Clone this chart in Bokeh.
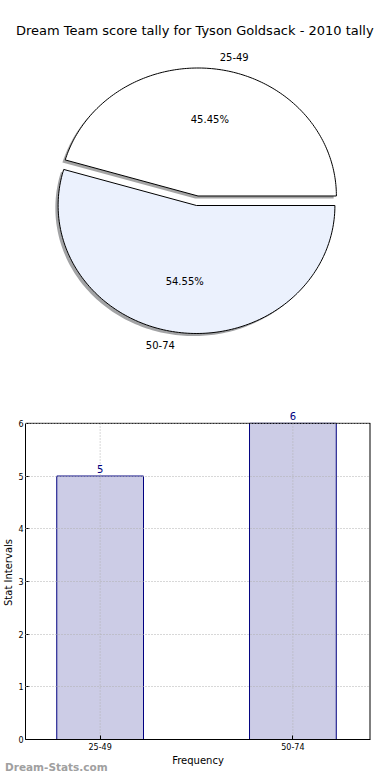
import numpy as np
from bokeh.plotting import figure
from bokeh.layouts import column
from bokeh.models import (Range1d, FixedTicker, LabelSet, ColumnDataSource, Span, Div)
from bokeh.core.properties import value
from bokeh.embed import file_html
from bokeh.resources import INLINE

# ---------------- data ----------------
title_text = "Dream Team score tally for Tyson Goldsack - 2010 tally"
categories = ["25-49", "50-74"]
counts = [5, 6]
explode = [0.075, 0.0]
slice_colors = ["#FFFFFF", "#EBF1FD"]
y_ticks = [0, 1, 2, 3, 4, 5, 6]
x_label = "Frequency"
y_label = "Stat Intervals"
watermark = "Dream-Stats.com"

FONT = "DejaVu Sans"

# ---------------- title ----------------
title_div = Div(text=title_text, width=374, height=36,
                styles={"font-family": FONT, "font-size": "13px", "color": "black",
                        "line-height": "52px", "text-align": "left",
                        "text-indent": "11px", "white-space": "nowrap"})

# ---------------- pie ----------------
p1 = figure(width=374, height=359, output_backend="svg", toolbar_location=None,
            x_range=Range1d(-1.2357, 1.2571), y_range=Range1d(-1.5625, 1.2422),
            x_axis_location=None, y_axis_location=None, min_border=0)
p1.grid.visible = False
p1.outline_line_color = None

total = float(sum(counts))
fracs = np.array(counts) / total
ends = np.cumsum(fracs) * 2 * np.pi
starts = ends - fracs * 2 * np.pi

xs, ys, sxs, sys_, shadow_cols = [], [], [], [], []
for i in range(len(counts)):
    s, e = starts[i], ends[i]
    mid = (s + e) / 2
    ox, oy = explode[i] * np.cos(mid), explode[i] * np.sin(mid)
    t = np.linspace(s, e, 160)
    px = np.concatenate([[ox], ox + np.cos(t), [ox]])
    py = np.concatenate([[oy], oy + np.sin(t), [oy]])
    xs.append(list(px)); ys.append(list(py))
    sxs.append(list(px - 0.02)); sys_.append(list(py - 0.02))
    c = slice_colors[i].lstrip("#")
    rgb = [int(int(c[k:k + 2], 16) * 0.3) for k in (0, 2, 4)]
    shadow_cols.append("#%02x%02x%02x" % tuple(rgb))

p1.patches(sxs, sys_, fill_color=shadow_cols, fill_alpha=0.5, line_color=None)
p1.patches(xs, ys, fill_color=slice_colors, line_color="black", line_width=1)

for i in range(len(counts)):
    s, e = starts[i], ends[i]
    mid = (s + e) / 2
    ox, oy = explode[i] * np.cos(mid), explode[i] * np.sin(mid)
    lx, ly = ox + 1.1 * np.cos(mid), oy + 1.1 * np.sin(mid)
    p1.text(x=[lx], y=[ly], text=[categories[i]],
            text_align="left" if lx > 0 else "right", text_baseline="middle",
            text_font=value(FONT), text_font_size="10px", text_color="black")
    qx, qy = ox + 0.6 * np.cos(mid), oy + 0.6 * np.sin(mid)
    p1.text(x=[qx], y=[qy], text=["%.2f%%" % (100 * fracs[i])],
            text_align="center", text_baseline="middle",
            text_font=value(FONT), text_font_size="10px", text_color="black")

# ---------------- bar ----------------
idx = list(range(len(categories)))
ymax = y_ticks[-1]
x_end = 1.4026
p2 = figure(width=374, height=363, output_backend="svg", toolbar_location=None,
            x_range=Range1d(-0.3872, x_end), y_range=Range1d(0, 6.3385),
            min_border_left=21, min_border_right=4, min_border_top=0,
            min_border_bottom=26)
p2.outline_line_color = None
p2.xgrid.visible = False

p2.vbar(x=idx, top=counts, width=0.45, fill_color="#CCCCE6",
        line_color="#000080", line_width=1)

# vertical dotted grid lines (limited to the axes box)
p2.segment(x0=idx, y0=[0] * len(idx), x1=idx, y1=[ymax] * len(idx),
           line_color="#b0b0b0", line_dash="1 2", line_width=1)
# right edge of the axes box
p2.segment(x0=[x_end], y0=[0], x1=[x_end], y1=[ymax], line_color="black", line_width=2)

p2.xaxis.ticker = FixedTicker(ticks=idx)
p2.xaxis.major_label_overrides = {i: c for i, c in enumerate(categories)}
p2.yaxis.ticker = FixedTicker(ticks=y_ticks)
p2.yaxis.bounds = (0, ymax)
p2.ygrid.ticker = FixedTicker(ticks=y_ticks)
p2.ygrid.grid_line_color = "#b0b0b0"
p2.ygrid.grid_line_dash = "1 2"
p2.ygrid.grid_line_width = 1
p2.ygrid.level = "overlay"

p2.add_layout(Span(location=ymax, dimension="width", line_color="black", line_width=1))

for ax in (p2.xaxis[0], p2.yaxis[0]):
    ax.axis_line_color = "black"
    ax.major_tick_in = 4
    ax.major_tick_out = 0
    ax.minor_tick_in = 0
    ax.minor_tick_out = 0
    ax.major_tick_line_color = "black"
    ax.major_label_text_font = FONT
    ax.major_label_text_font_size = "8px"
    ax.major_label_text_color = "black"
    ax.axis_label_text_font = FONT
    ax.axis_label_text_font_size = "10px"
    ax.axis_label_text_font_style = "normal"
    ax.axis_label_text_color = "black"

p2.xaxis[0].axis_label = x_label
p2.yaxis[0].axis_label = y_label
p2.xaxis[0].major_label_standoff = 3
p2.xaxis[0].axis_label_standoff = 2
p2.yaxis[0].major_label_standoff = 2
p2.yaxis[0].axis_label_standoff = 1

src = ColumnDataSource(dict(x=idx, y=counts, t=[str(c) for c in counts]))
p2.add_layout(LabelSet(x="x", y="y", text="t", source=src, text_align="center",
                       text_baseline="bottom", y_offset=3, text_color="#000080",
                       text_font=value(FONT), text_font_size="10px"))

wm = Div(text=watermark, width=120, height=13,
         styles={"margin-top": "-7px", "font-family": FONT, "font-size": "10.5px",
                 "font-weight": "bold", "color": "#A0A0A0", "line-height": "13px",
                 "white-space": "nowrap"})

layout = column(title_div, p1, p2, wm)
open("out.html", "w").write(file_html(layout, INLINE))
